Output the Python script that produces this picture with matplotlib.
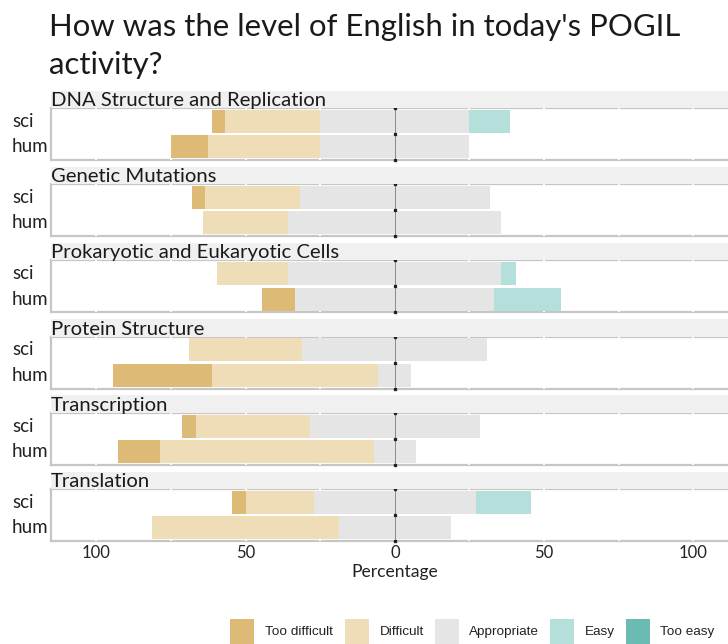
import matplotlib
matplotlib.use("Agg")
import matplotlib.pyplot as plt
from matplotlib.patches import Rectangle
import matplotlib.transforms as mtransforms
import numpy as np

# ---- data ----
activities = ["DNA Structure and Replication", "Genetic Mutations",
              "Prokaryotic and Eukaryotic Cells", "Protein Structure",
              "Transcription", "Translation"]
groups = ["sci", "hum"]
levels = ["Too difficult", "Difficult", "Appropriate", "Easy", "Too easy"]
colors = ["#DDBB76", "#EEDDB6", "#E5E5E5", "#B5DFDB", "#6CBBB3"]

# percentages per activity: [sci, hum], each [too difficult, difficult, appropriate, easy, too easy]
too_difficult = [[4.5, 12.5], [4.5, 0.0], [0.0, 11.1], [0.0, 33.3], [4.8, 14.3], [4.5, 0.0]]
difficult     = [[31.8, 37.5], [31.8, 28.6], [23.8, 0.0], [38.1, 55.6], [38.1, 71.4], [22.7, 62.5]]
appropriate   = [[50.0, 50.0], [63.6, 71.4], [71.4, 66.7], [61.9, 11.1], [57.1, 14.3], [54.5, 37.5]]
easy          = [[13.6, 0.0], [0.0, 0.0], [4.8, 22.2], [0.0, 0.0], [0.0, 0.0], [18.2, 0.0]]
too_easy      = [[0.0, 0.0], [0.0, 0.0], [0.0, 0.0], [0.0, 0.0], [0.0, 0.0], [0.0, 0.0]]

title_lines = ["How was the level of English in today's POGIL", "activity?"]
xticks = [-100, -50, 0, 50, 100]
xticklabels = ["100", "50", "0", "50", "100"]

# ---- figure ----
W, H = 728, 644
fig = plt.figure(figsize=(W / 100, H / 100), dpi=100)
FONT = "Lato"

def fx(px):
    return px / W

def fy(py):
    return 1 - py / H

fig.text(fx(49), fy(36), title_lines[0], ha="left", va="baseline", fontsize=22.4,
         family=FONT, color="#1A1A1A")
fig.text(fx(49), fy(74), title_lines[1], ha="left", va="baseline", fontsize=22.4,
         family=FONT, color="#1A1A1A")

xlim = (-115.2, 115.2)
panel_left = 51
px_per_pct = 2.985
panel_w = (xlim[1] - xlim[0]) * px_per_pct

strip_top0 = 90.5
period = 76.2
strip_h = 17.5
panel_h = 52
ylim = (-0.52, 1.52)

for i, act in enumerate(activities):
    st = strip_top0 + period * i
    # strip
    fig.patches.append(Rectangle((fx(panel_left), fy(st + strip_h)), panel_w / W, strip_h / H,
                                 transform=fig.transFigure, facecolor="#F0F0F0",
                                 edgecolor="none", zorder=0))
    fig.text(fx(panel_left), fy(st + strip_h - 2), act, ha="left", va="baseline",
             fontsize=14.6, family=FONT, color="#1A1A1A")
    ax = fig.add_axes([fx(panel_left), fy(st + strip_h + panel_h), panel_w / W, panel_h / H])
    ax.set_xlim(*xlim)
    ax.set_ylim(*ylim)
    trans = mtransforms.blended_transform_factory(fig.transFigure, ax.transData)
    for gi, g in enumerate(groups):
        y = 1 - gi
        vals = [too_difficult[i][gi], difficult[i][gi], appropriate[i][gi],
                easy[i][gi], too_easy[i][gi]]
        left = -vals[2] / 2
        kw = dict(height=0.9, zorder=3)
        ax.barh(y, vals[2] / 2, left=left, color=colors[2], **kw)
        ax.barh(y, -vals[1], left=left, color=colors[1], **kw)
        ax.barh(y, -vals[0], left=left - vals[1], color=colors[0], **kw)
        ax.barh(y, vals[2] / 2, left=0, color=colors[2], **kw)
        ax.barh(y, vals[3], left=vals[2] / 2, color=colors[3], **kw)
        ax.barh(y, vals[4], left=vals[2] / 2 + vals[3], color=colors[4], **kw)
        ax.text(fx(12), y, g, transform=trans, ha="left", va="center",
                fontsize=13.5, family=FONT, color="#222222")
    for gx in np.arange(-100, 101, 25):
        if gx != 0:
            ax.axvline(gx, color="white", lw=1.4, zorder=2.6)
    ax.axvline(0, color="#666666", lw=0.5, zorder=4)
    ax.plot([0, 0, 0], [ylim[0], 0.5, ylim[1]], ls="none", marker="s", ms=1.8,
            color="#222222", zorder=5, clip_on=False)
    ax.set_yticks([])
    for s in ["left", "bottom", "top", "right"]:
        ax.spines[s].set_color("#C6C6C6")
        ax.spines[s].set_linewidth(1.6)
    ax.set_xticks(xticks)
    if i == len(activities) - 1:
        ax.set_xticklabels(xticklabels, fontsize=12, family=FONT, color="#222222")
        ax.tick_params(axis="x", length=0, pad=3)
        ax.set_xlabel("Percentage", fontsize=12.6, family=FONT, color="#222222", labelpad=2)
    else:
        ax.set_xticklabels([])
        ax.tick_params(axis="x", length=0)

# ---- legend ----
leg_patch_x = [230, 345, 435, 550, 626]
leg_text_x = [265, 380, 469, 585, 660]
for lvl, c, pxp, pxt in zip(levels, colors, leg_patch_x, leg_text_x):
    fig.patches.append(Rectangle((fx(pxp), fy(645)), 24 / W, 26 / H, transform=fig.transFigure,
                                 facecolor=c, edgecolor="none"))
    fig.text(fx(pxt), fy(632), lvl, ha="left", va="center", fontsize=9.7,
             family="Liberation Sans", color="#222222")

fig.savefig("out.png", dpi=100)
